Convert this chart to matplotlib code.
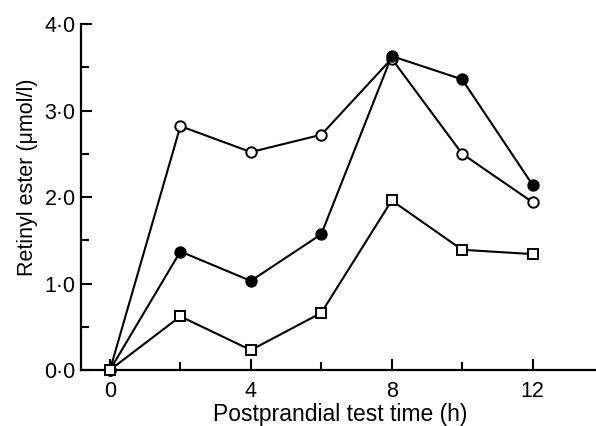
import matplotlib
matplotlib.use("Agg")
import matplotlib.pyplot as plt
from matplotlib.ticker import MultipleLocator, FixedLocator

plt.rcParams['font.family'] = ['Liberation Sans', 'DejaVu Sans']

time_h = [0, 2, 4, 6, 8, 10, 12]
open_circles = [0.0, 2.82, 2.52, 2.72, 3.60, 2.50, 1.94]
filled_circles = [0.0, 1.37, 1.03, 1.57, 3.63, 3.36, 2.14]
open_squares = [0.0, 0.62, 0.23, 0.66, 1.96, 1.39, 1.34]

y_ticks = [0, 1, 2, 3, 4]
y_tick_labels = ["0·0", "1·0", "2·0", "3·0", "4·0"]
x_ticks = [0, 4, 8, 12]
x_tick_labels = ["0", "4", "8", "12"]

fig = plt.figure(figsize=(5.96, 4.26), dpi=100)
ax = fig.add_axes([0.136, 0.1315, 0.864, 0.812])

lw = 1.5
ax.plot(time_h, open_circles, color='black', lw=lw, marker='o', ms=7.5,
        mfc='white', mec='black', mew=1.4, clip_on=False, zorder=3)
ax.plot(time_h, filled_circles, color='black', lw=lw, marker='o', ms=7.5,
        mfc='black', mec='black', mew=1.4, clip_on=False, zorder=3)
ax.plot(time_h, open_squares, color='black', lw=lw, marker='s', ms=6.5,
        mfc='white', mec='black', mew=1.4, clip_on=False, zorder=4)

ax.set_xlim(-0.82, 13.8)
ax.set_ylim(0, 4.0)
ax.spines['top'].set_visible(False)
ax.spines['right'].set_visible(False)
for s in ['left', 'bottom']:
    ax.spines[s].set_linewidth(1.6)

ax.set_yticks(y_ticks)
ax.set_yticklabels(y_tick_labels)
ax.yaxis.set_minor_locator(MultipleLocator(0.5))
ax.set_xticks(x_ticks)
ax.set_xticklabels(x_tick_labels)
ax.xaxis.set_minor_locator(FixedLocator([2, 6, 10]))

ax.tick_params(which='major', direction='in', length=8, width=1.5, labelsize=15.5)
ax.tick_params(axis='x', which='major', pad=8)
ax.tick_params(axis='y', which='major', pad=4)
ax.tick_params(which='minor', direction='in', length=6, width=1.5)

ax.set_xlabel("Postprandial test time (h)", fontsize=16.5)
ax.set_ylabel("Retinyl ester (μmol/l)", fontsize=15.5)
ax.xaxis.set_label_coords(0.503, -0.095)
ax.yaxis.set_label_coords(-0.084, 0.556)

fig.savefig("out.png", dpi=100)
